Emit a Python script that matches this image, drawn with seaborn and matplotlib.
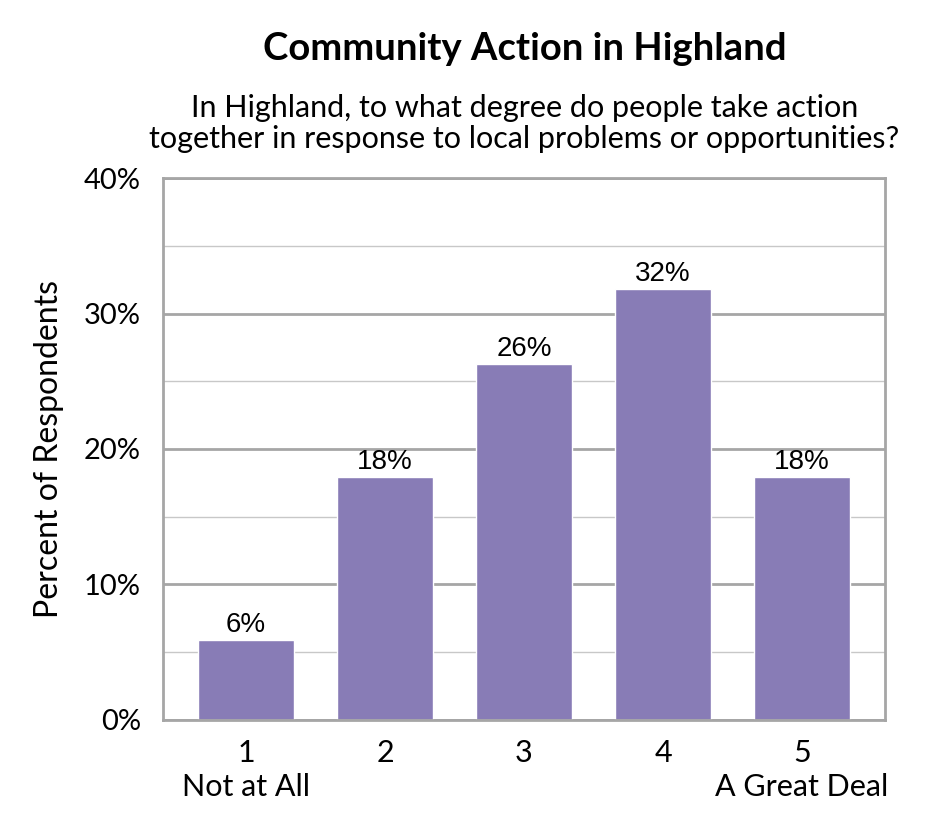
import matplotlib
matplotlib.use("Agg")
import matplotlib.pyplot as plt
import seaborn as sns
import pandas as pd
from matplotlib.ticker import MultipleLocator, FuncFormatter

# chart data
categories = ["1\nNot at All", "2", "3", "4", "5\nA Great Deal"]
percents = [5.9, 17.9, 26.3, 31.8, 17.9]
value_labels = ["6%", "18%", "26%", "32%", "18%"]

sns.set_style("white")
plt.rcParams["font.family"] = ["Lato", "DejaVu Sans"]
plt.rcParams["text.color"] = "black"
plt.rcParams["axes.labelcolor"] = "black"
plt.rcParams["xtick.color"] = "black"
plt.rcParams["ytick.color"] = "black"

df = pd.DataFrame({"rating": categories, "pct": percents})

fig = plt.figure(figsize=(9.45, 8.4), dpi=100)
ax = fig.add_axes([0.1725, 0.143, 0.764, 0.645])

sns.barplot(data=df, x="rating", y="pct", color="#887CB6", saturation=1,
            width=0.695, ax=ax)

ax.set_xlim(-0.597, 4.597)
ax.set_ylim(0, 40)
ax.yaxis.set_major_locator(MultipleLocator(10))
ax.yaxis.set_minor_locator(MultipleLocator(5))
ax.yaxis.set_major_formatter(FuncFormatter(lambda v, p: f"{v:.0f}%"))
ax.grid(axis="y", which="major", color="#A6A6A6", linewidth=2)
ax.grid(axis="y", which="minor", color="#C8C8C8", linewidth=1)
ax.set_axisbelow(True)
for s in ax.spines.values():
    s.set_color("#A6A6A6")
    s.set_linewidth(2)

ax.tick_params(axis="both", which="both", length=0)
ax.tick_params(axis="x", pad=14, labelsize=22)
ax.tick_params(axis="y", pad=16, labelsize=21)
for t in ax.get_xticklabels():
    t.set_linespacing(1.25)
ax.set_xlabel("")
ax.set_ylabel("Percent of Respondents", fontsize=23, labelpad=14)

# value labels above bars
for bar, lab in zip(ax.patches, value_labels):
    ax.text(bar.get_x() + bar.get_width() / 2, bar.get_height() + 0.15, lab,
            ha="center", va="bottom", fontsize=20,
            family=["Liberation Sans", "DejaVu Sans"])

fig.text(0.555, 0.942, "Community Action in Highland", ha="center", va="center",
         fontsize=27.5, fontweight="bold")
fig.text(0.555, 0.853, "In Highland, to what degree do people take action\n"
         "together in response to local problems or opportunities?",
         ha="center", va="center", fontsize=22, linespacing=1.15)

fig.savefig("out.png", dpi=100)
